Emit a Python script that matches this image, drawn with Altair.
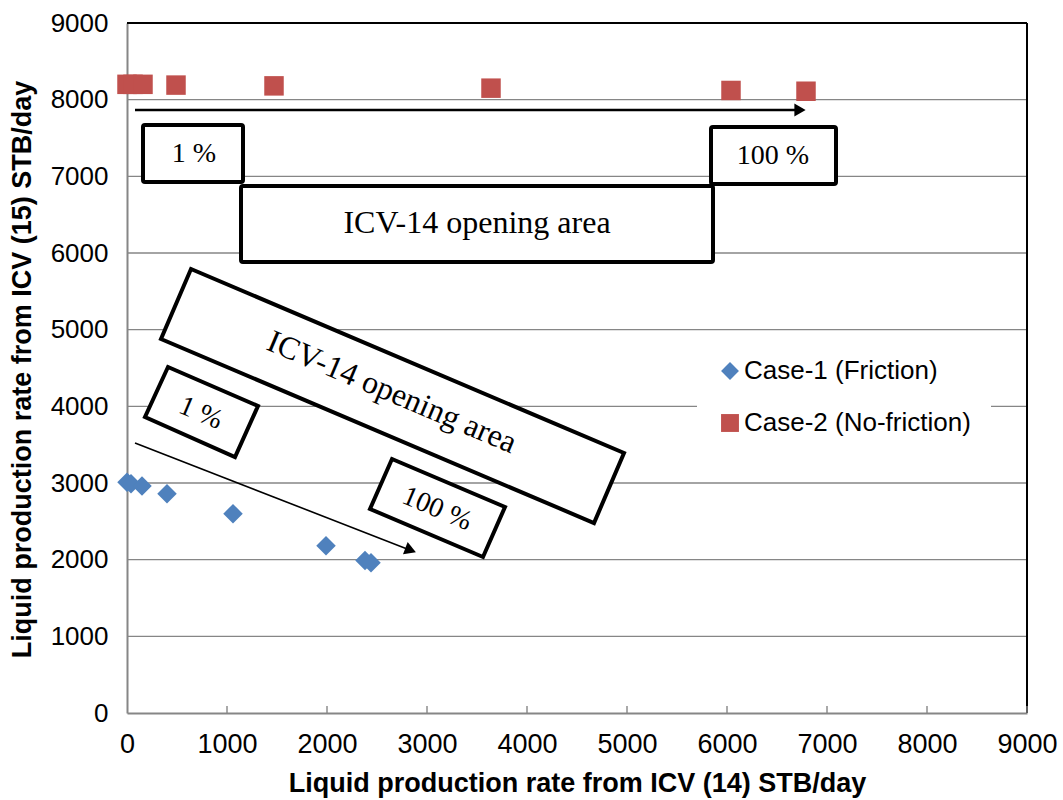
import altair as alt
import pandas as pd

# ---- measured series -------------------------------------------------------
case1_x = [0, 40, 150, 400, 1060, 1990, 2380, 2440]
case1_y = [3010, 2990, 2960, 2860, 2600, 2180, 1990, 1960]
case2_x = [0, 60, 160, 490, 1470, 3640, 6040, 6790]
case2_y = [8200, 8200, 8200, 8190, 8180, 8150, 8120, 8110]
series_names = ["Case-1 (Friction)", "Case-2 (No-friction)"]
series_colors = ["#4F81BD", "#C0504D"]
series_shapes = ["diamond", "square"]

axis_ticks = [0, 1000, 2000, 3000, 4000, 5000, 6000, 7000, 8000, 9000]
grid_levels = [1000, 2000, 3000, 4000, 5000, 6000, 7000, 8000]

# ---- annotations (data units) ---------------------------------------------
# upright boxes: x, x2, y, y2
box_x = [160, 1140, 5840]
box_x2 = [1160, 5860, 7090]
box_y = [7668, 6873, 7643]
box_y2 = [6925, 5881, 6899]

# slanted boxes: four corners each (clockwise from top-left)
slant_id = ["big", "one", "hundred"]
slant_x = [[640, 4970, 4670, 340], [410, 1310, 1080, 180], [2650, 3780, 3560, 2430]]
slant_y = [[5791, 3391, 2478, 4878], [4513, 4004, 3339, 3861], [3313, 2687, 2035, 2661]]

label_text = ["1 %", "ICV-14 opening area", "100 %", "ICV-14 opening area", "1 %", "100 %"]
label_x = [670, 3500, 6460, 2650, 737, 3100]
label_y = [7290, 6390, 7260, 4186, 3908, 2660]
label_angle = [0, 0, 0, 23, 23, 23]
label_size = [28, 32, 28, 32, 28, 28]

arrow_id = ["top", "top", "low", "low"]
arrow_x = [80, 6740, 80, 2840]
arrow_y = [7864, 7864, 3522, 2120]
arrow_width = [2.5, 2.5, 1.6, 1.6]
head_x = [6730, 2836]
head_y = [7864, 2124]
head_angle = [0, 21]

W, H = 900, 690
xs = alt.Scale(domain=[0, 9000], nice=False, zero=False)
ys = alt.Scale(domain=[0, 9000], nice=False, zero=False)

AXIS_GRAY = "#868686"
SANS = "Liberation Sans, Arial, sans-serif"

x_axis = alt.Axis(
    values=axis_ticks, format="d", grid=False, ticks=False, tickSize=0,
    domainColor=AXIS_GRAY, domainWidth=2,
    labelFont=SANS, labelFontSize=27, labelColor="black", labelPadding=18,
    labelFlush=False, labelOverlap=False,
    title="Liquid production rate from  ICV (14) STB/day",
    titleFont=SANS, titleFontSize=27, titleFontWeight="bold", titleColor="black",
    titleX=450, titleY=70, titleBaseline="middle", titleAlign="center",
)
y_axis = alt.Axis(
    values=axis_ticks, format="d", grid=False, ticks=False, tickSize=0,
    domainColor=AXIS_GRAY, domainWidth=2,
    labelFont=SANS, labelFontSize=26, labelColor="black", labelPadding=19,
    labelOverlap=False,
    title="Liquid production rate from ICV (15) STB/day",
    titleFont=SANS, titleFontSize=27, titleFontWeight="bold", titleColor="black",
    titleAngle=-90, titleX=-105, titleY=346, titleBaseline="middle", titleAlign="center",
)


def X(field="x"):
    return alt.X(f"{field}:Q", scale=xs, axis=x_axis)


def Y(field="y"):
    return alt.Y(f"{field}:Q", scale=ys, axis=y_axis)


pts = pd.DataFrame({
    "x": case1_x + case2_x,
    "y": case1_y + case2_y,
    "series": [series_names[0]] * len(case1_x) + [series_names[1]] * len(case2_x),
})
grid_df = pd.DataFrame({"y": grid_levels})
tick_df = pd.DataFrame({"x": axis_ticks[1:]})
box_df = pd.DataFrame({"x": box_x, "x2": box_x2, "y": box_y, "y2": box_y2})
poly_rows = []
for k, name in enumerate(slant_id):
    cx, cy = slant_x[k], slant_y[k]
    for o, i in enumerate([0, 1, 2, 3, 0, 1]):
        poly_rows.append({"id": name, "o": o, "x": cx[i], "y": cy[i]})
poly_df = pd.DataFrame(poly_rows)
label_df = pd.DataFrame({"t": label_text, "x": label_x, "y": label_y,
                         "a": label_angle, "s": label_size})
arrow_df = pd.DataFrame({"id": arrow_id, "x": arrow_x, "y": arrow_y, "w": arrow_width,
                         "o": list(range(len(arrow_x)))})
head_df = pd.DataFrame({"x": head_x, "y": head_y, "a": head_angle})
border_h = pd.DataFrame({"x": [0], "x2": [9000], "y": [9000]})
border_v = pd.DataFrame({"x": [9000], "y": [0], "y2": [9000]})

grid = alt.Chart(grid_df).mark_rule(color=AXIS_GRAY, strokeWidth=1.4).encode(
    y=Y(), x=alt.value(0), x2=alt.value(W)
)
xticks = alt.Chart(tick_df).mark_rule(color=AXIS_GRAY, strokeWidth=1.4).encode(
    x=X(), y=alt.value(H - 7), y2=alt.value(H)
)
top_border = alt.Chart(border_h).mark_rule(color="black", strokeWidth=2).encode(
    x=X(), x2="x2:Q", y=Y()
)
right_border = alt.Chart(border_v).mark_rule(color="black", strokeWidth=2).encode(
    x=X(), y=Y(), y2="y2:Q"
)
boxes = alt.Chart(box_df).mark_rect(
    fill="white", stroke="black", strokeWidth=4, cornerRadius=2
).encode(x=X(), x2="x2:Q", y=Y(), y2="y2:Q")
slanted = alt.Chart(poly_df).mark_line(
    fill="white", stroke="black", strokeWidth=4, strokeJoin="miter"
).encode(x=X(), y=Y(), detail="id:N", order="o:Q")
arrows = alt.Chart(arrow_df).mark_line(color="black").encode(
    x=X(), y=Y(), detail="id:N", order="o:Q",
    strokeWidth=alt.StrokeWidth("w:Q", scale=None),
)
heads = alt.Chart(head_df).mark_point(
    shape="triangle-right", filled=True, color="black", size=170, opacity=1
).encode(x=X(), y=Y(), angle=alt.Angle("a:Q", scale=None))
labels = alt.Chart(label_df).mark_text(
    font="Liberation Serif, Times New Roman, serif", color="black",
    align="center", baseline="middle"
).encode(
    x=X(), y=Y(), text="t:N",
    angle=alt.Angle("a:Q", scale=None), size=alt.Size("s:Q", scale=None),
)

legend_def = alt.Legend(
    title=None, orient="none", legendX=570, legendY=315, padding=20,
    fillColor="white", labelFont=SANS, labelFontSize=26, labelColor="black",
    symbolSize=320, rowPadding=26, labelOffset=1, labelLimit=400,
    symbolStrokeWidth=0,
)
points = alt.Chart(pts).mark_point(filled=True, size=380, opacity=1).encode(
    x=X(), y=Y(),
    color=alt.Color("series:N", scale=alt.Scale(domain=series_names, range=series_colors),
                    legend=legend_def),
    shape=alt.Shape("series:N", scale=alt.Scale(domain=series_names, range=series_shapes),
                    legend=legend_def),
)

chart = alt.layer(
    grid, top_border, right_border, arrows, heads, boxes, slanted, labels, xticks, points
).properties(
    width=W, height=H,
    padding={"left": 127, "top": 23, "right": 36, "bottom": 87},
    autosize="none", background="white",
).configure_view(stroke=None)

chart.save("out.html", embed_options={"renderer": "svg", "actions": False})
